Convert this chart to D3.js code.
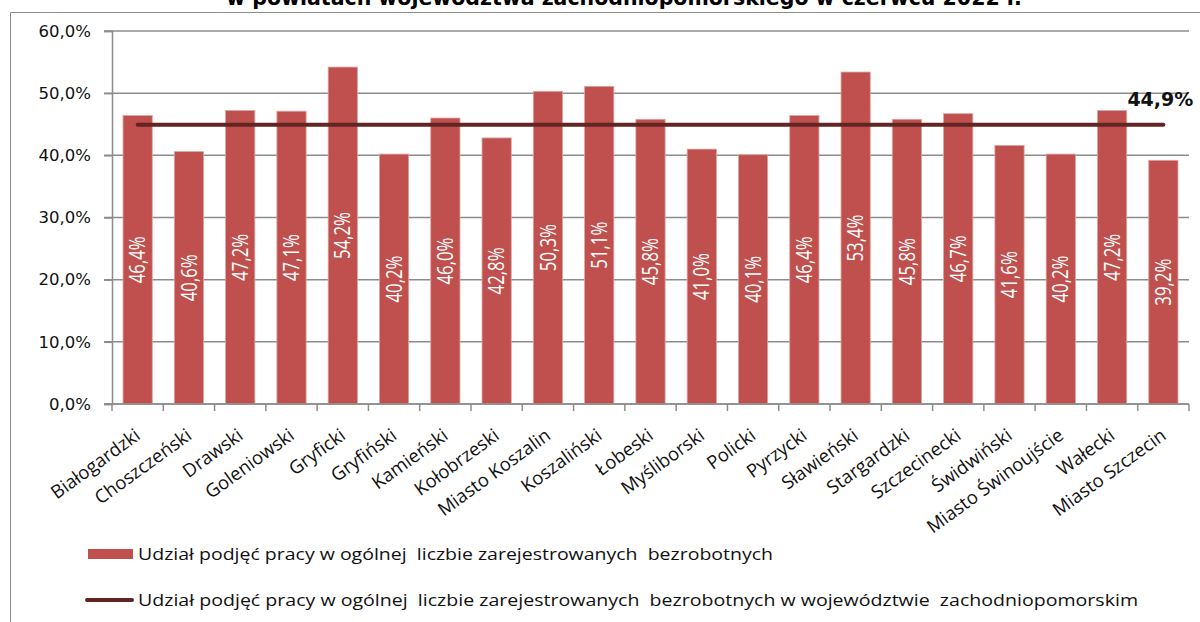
<!DOCTYPE html>
<html>
<head>
<meta charset="utf-8">
<script src="https://cdn.jsdelivr.net/npm/d3@7"></script>
<style>
  body { margin: 0; background: #fff; }
  svg { display: block; }
</style>
</head>
<body>
<svg width="1200" height="622"></svg>
<script>
var titleText = "w powiatach województwa zachodniopomorskiego w czerwcu 2022 r.";

var powiaty = ["Białogardzki", "Choszczeński", "Drawski", "Goleniowski", "Gryficki", "Gryfiński",
  "Kamieński", "Kołobrzeski", "Miasto Koszalin", "Koszaliński", "Łobeski", "Myśliborski",
  "Policki", "Pyrzycki", "Sławieński", "Stargardzki", "Szczecinecki", "Świdwiński",
  "Miasto Świnoujście", "Wałecki", "Miasto Szczecin"];

var udzialy = [46.4, 40.6, 47.2, 47.1, 54.2, 40.2, 46.0, 42.8, 50.3, 51.1, 45.8, 41.0,
  40.1, 46.4, 53.4, 45.8, 46.7, 41.6, 40.2, 47.2, 39.2];

var sredniaWoj = 44.9;

var yTicks = [0, 10, 20, 30, 40, 50, 60];

var legendLabels = [
  "Udział podjęć pracy w ogólnej  liczbie zarejestrowanych  bezrobotnych",
  "Udział podjęć pracy w ogólnej  liczbie zarejestrowanych  bezrobotnych w województwie  zachodniopomorskim"
];

var fmt = function(v) { return d3.format(".1f")(v).replace(".", ",") + "%"; };

var svg = d3.select("svg");

// title, cut off by the top of the picture
svg.append("text")
  .attr("x", 624)
  .attr("y", 5)
  .attr("text-anchor", "middle")
  .style("font-family", "DejaVu Sans")
  .style("font-weight", "bold")
  .style("font-size", "20.5px")
  .text(titleText);

// chart frame
svg.append("path")
  .attr("d", "M10.5,622 L10.5,12.5 L1200,12.5")
  .attr("fill", "none")
  .attr("stroke", "#8c8c8c")
  .attr("stroke-width", 1);

var x = d3.scaleBand()
  .domain(powiaty)
  .range([112, 1189])
  .paddingInner(0.43)
  .paddingOuter(0.215);

var y = d3.scaleLinear()
  .domain([0, 60])
  .range([404, 31]);

var vis = svg.append("g").attr("class", "vis");

// gridlines
vis.append("g")
  .selectAll("line")
  .data(yTicks)
  .join("line")
  .attr("x1", 104)
  .attr("x2", 1189)
  .attr("y1", function(d) { return y(d); })
  .attr("y2", function(d) { return y(d); })
  .attr("stroke", "#8c8c8c")
  .attr("stroke-width", 1.5);

// y axis
var yAxis = vis.append("g")
  .attr("transform", "translate(112,0)")
  .call(d3.axisLeft(y).tickValues(yTicks).tickSize(8).tickPadding(13).tickFormat(fmt));
yAxis.select(".domain").attr("stroke", "#8c8c8c").attr("stroke-width", 1.5);
yAxis.selectAll(".tick line").attr("stroke", "#8c8c8c").attr("stroke-width", 1.5);
yAxis.selectAll("text")
  .style("font-family", "DejaVu Sans")
  .style("font-size", "16.5px")
  .attr("fill", "#111");

// bars
vis.append("g")
  .selectAll("rect")
  .data(udzialy)
  .join("rect")
  .attr("x", function(d, i) { return x(powiaty[i]); })
  .attr("width", x.bandwidth())
  .attr("y", function(d) { return y(d); })
  .attr("height", function(d) { return y(0) - y(d); })
  .attr("fill", "#c0504d")
  .attr("stroke", "#dca5a3")
  .attr("stroke-width", 0.8);

// values inside bars (narrow, as in the original)
vis.append("g")
  .selectAll("text")
  .data(udzialy)
  .join("text")
  .attr("transform", function(d, i) {
    var cx = x(powiaty[i]) + x.bandwidth() / 2;
    var cy = (y(d) + y(0)) / 2;
    return "translate(" + cx + "," + cy + ") rotate(-90) scale(0.8,1)";
  })
  .attr("text-anchor", "middle")
  .attr("dy", "0.36em")
  .attr("fill", "#fff")
  .style("font-family", "'Open Sans'")
  .style("font-size", "21px")
  .text(function(d) { return fmt(d); });

// x axis
var xAxis = vis.append("g")
  .attr("transform", "translate(0,404)");
xAxis.append("line")
  .attr("x1", 104).attr("x2", 1189)
  .attr("stroke", "#8c8c8c").attr("stroke-width", 1.5);
var step = x.step();
xAxis.selectAll(".xtick")
  .data(d3.range(powiaty.length + 1))
  .join("line")
  .attr("class", "xtick")
  .attr("x1", function(i) { return 112 + i * step; })
  .attr("x2", function(i) { return 112 + i * step; })
  .attr("y1", 0).attr("y2", 7)
  .attr("stroke", "#8c8c8c").attr("stroke-width", 1.5);
xAxis.selectAll(".xlab")
  .data(powiaty)
  .join("text")
  .attr("class", "xlab")
  .attr("transform", function(d) {
    return "translate(" + (x(d) + x.bandwidth() / 2 + 4) + ",34) rotate(-36)";
  })
  .attr("text-anchor", "end")
  .attr("fill", "#111")
  .style("font-family", "'Open Sans'")
  .style("font-size", "18.5px")
  .text(function(d) { return d; });

// provincial average line
var xFirst = x(powiaty[0]) + x.bandwidth() / 2,
    xLast = x(powiaty[powiaty.length - 1]) + x.bandwidth() / 2;
vis.append("line")
  .attr("x1", xFirst)
  .attr("x2", xLast)
  .attr("y1", y(sredniaWoj))
  .attr("y2", y(sredniaWoj))
  .attr("stroke", "#632523")
  .attr("stroke-width", 4)
  .attr("stroke-linecap", "round");
vis.append("text")
  .attr("x", xLast - 3)
  .attr("y", y(sredniaWoj) - 19)
  .attr("text-anchor", "middle")
  .style("font-family", "DejaVu Sans")
  .style("font-weight", "bold")
  .style("font-size", "19px")
  .attr("fill", "#111")
  .text(fmt(sredniaWoj));

// legend
var legend = svg.append("g").attr("class", "legend");
legend.append("rect")
  .attr("x", 88).attr("y", 549)
  .attr("width", 45).attr("height", 10)
  .attr("fill", "#c0504d");
legend.append("line")
  .attr("x1", 87).attr("x2", 132)
  .attr("y1", 600).attr("y2", 600)
  .attr("stroke", "#632523")
  .attr("stroke-width", 4)
  .attr("stroke-linecap", "round");
legend.selectAll(".ltxt")
  .data(legendLabels)
  .join("text")
  .attr("class", "ltxt")
  .attr("x", 138)
  .attr("y", function(d, i) { return i === 0 ? 560 : 606; })
  .attr("textLength", function(d, i) { return i === 0 ? 635 : 1000; })
  .attr("lengthAdjust", "spacingAndGlyphs")
  .style("white-space", "pre")
  .style("font-family", "'Open Sans'")
  .style("font-size", "17px")
  .attr("fill", "#111")
  .text(function(d) { return d; });
</script>
</body>
</html>
